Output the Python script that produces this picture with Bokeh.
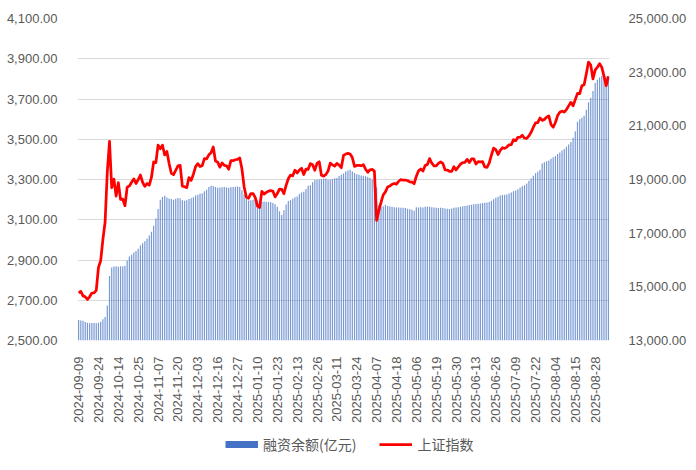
import math
from bokeh.plotting import figure
from bokeh.layouts import column
from bokeh.models import (Range1d, LinearAxis, FixedTicker, NumeralTickFormatter,
                          Legend, LegendItem, ColumnDataSource)
from bokeh.embed import file_html
from bokeh.resources import INLINE

# x-axis tick labels (every 9th trading day)
tick_labels = [
    "2024-09-09", "2024-09-24", "2024-10-14", "2024-10-25", "2024-11-07", "2024-11-20",
    "2024-12-03", "2024-12-16", "2024-12-27", "2025-01-10", "2025-01-23", "2025-02-13",
    "2025-02-26", "2025-03-11", "2025-03-24", "2025-04-07", "2025-04-18", "2025-05-06",
    "2025-05-19", "2025-05-30", "2025-06-13", "2025-06-26", "2025-07-09", "2025-07-22",
    "2025-08-04", "2025-08-15", "2025-08-28",
]

# 上证指数 (left axis)
sse_index = [
    2736.49, 2744.19, 2721.80, 2717.12, 2704.09, 2717.28, 2736.02, 2736.81, 2748.92,
    2863.13, 2896.31, 3000.95, 3087.53, 3336.50, 3489.78, 3258.86, 3301.93, 3217.74,
    3284.32, 3201.29, 3202.95, 3169.38, 3261.56, 3268.11, 3285.87, 3302.80, 3280.26,
    3299.70, 3322.20, 3286.41, 3266.24, 3279.82, 3272.01, 3310.21, 3386.99, 3383.81,
    3470.66, 3452.30, 3470.07, 3421.97, 3439.28, 3379.84, 3330.73, 3323.85, 3346.01,
    3367.99, 3370.40, 3267.19, 3263.76, 3259.76, 3309.78, 3295.70, 3326.46, 3363.98,
    3378.81, 3364.65, 3368.86, 3404.08, 3402.53, 3422.66, 3432.49, 3461.50, 3391.88,
    3386.33, 3361.49, 3382.21, 3370.03, 3368.07, 3351.26, 3393.53, 3393.35, 3398.08,
    3400.14, 3407.33, 3351.76, 3262.56, 3211.43, 3206.92, 3229.64, 3230.17, 3211.39,
    3168.52, 3160.76, 3240.94, 3227.12, 3236.03, 3241.82, 3244.38, 3242.62, 3213.62,
    3230.16, 3252.63, 3250.60, 3229.49, 3270.66, 3303.67, 3322.17, 3318.06, 3346.39,
    3332.48, 3346.72, 3355.83, 3324.49, 3351.54, 3350.78, 3379.11, 3373.03, 3346.04,
    3380.21, 3388.06, 3320.90, 3316.93, 3324.21, 3341.96, 3381.10, 3372.55, 3366.16,
    3379.83, 3371.92, 3358.73, 3419.56, 3426.43, 3429.76, 3426.43, 3408.95, 3364.83,
    3370.03, 3369.98, 3368.70, 3373.75, 3351.31, 3335.75, 3348.44, 3350.13, 3342.01,
    3096.58, 3145.55, 3186.81, 3223.64, 3238.23, 3262.81, 3267.66, 3276.00, 3280.34,
    3276.73, 3291.43, 3299.76, 3296.36, 3297.29, 3295.06, 3288.41, 3286.65, 3279.03,
    3316.11, 3343.00, 3352.00, 3342.00, 3369.24, 3374.87, 3403.95, 3380.82, 3367.46,
    3367.58, 3380.48, 3387.57, 3380.19, 3348.37, 3346.84, 3340.69, 3339.93, 3363.45,
    3347.49, 3361.98, 3376.20, 3384.10, 3385.36, 3399.77, 3384.82, 3402.32, 3402.66,
    3377.00, 3388.73, 3387.40, 3388.81, 3362.11, 3359.90, 3381.58, 3420.57, 3455.97,
    3448.45, 3424.23, 3444.43, 3457.75, 3454.79, 3461.15, 3472.32, 3473.13, 3497.48,
    3493.05, 3509.68, 3510.18, 3519.65, 3505.00, 3503.78, 3516.83, 3534.48, 3559.79,
    3581.86, 3582.30, 3605.73, 3593.66, 3597.94, 3609.71, 3615.72, 3573.21, 3559.95,
    3583.31, 3617.60, 3633.99, 3639.67, 3635.13, 3647.55, 3665.92, 3683.46, 3666.44,
    3696.77, 3728.03, 3727.29, 3766.21, 3771.10, 3825.76, 3883.56, 3868.38, 3800.35,
    3843.60, 3857.93, 3875.53, 3858.13, 3813.56, 3765.88, 3812.51,
]

# 融资余额(亿元) (right axis)
margin_balance = [
    13760, 13750, 13740, 13690, 13660, 13640, 13650, 13650, 13640,
    13660, 13700, 13790, 13880, 14300, 15400, 15720, 15760, 15770,
    15750, 15770, 15760, 15790, 15980, 16130, 16200, 16280, 16340,
    16420, 16540, 16620, 16700, 16790, 16910, 17050, 17280, 17550,
    17900, 18250, 18350, 18390, 18330, 18290, 18270, 18250, 18280,
    18310, 18290, 18230, 18210, 18230, 18270, 18300, 18340, 18400,
    18430, 18470, 18490, 18560, 18620, 18720, 18770, 18760, 18720,
    18690, 18700, 18710, 18720, 18700, 18690, 18710, 18720, 18730,
    18740, 18720, 18600, 18450, 18280, 18220, 18230, 18250, 18240,
    18220, 18150, 18170, 18180, 18170, 18160, 18150, 18120, 18080,
    17980, 17820, 17680, 17850, 18070, 18200, 18230, 18280, 18340,
    18370, 18460, 18520, 18540, 18650, 18770, 18790, 18900, 18980,
    18990, 19000, 19010, 19030, 19040, 18990, 19000, 19010, 19050,
    19060, 19130, 19180, 19220, 19300, 19340, 19360, 19300, 19240,
    19200, 19180, 19150, 19140, 19120, 19090, 19060, 19000, 18980,
    18700, 18050, 17970, 18000, 18060, 18010, 17990, 17980, 17970,
    17960, 17960, 17950, 17950, 17940, 17910, 17890, 17870, 17840,
    17970, 17960, 17970, 17960, 17980, 17990, 17980, 17970, 17960,
    17950, 17940, 17950, 17940, 17920, 17910, 17900, 17920, 17950,
    17960, 17970, 17980, 18000, 18010, 18030, 18050, 18060, 18080,
    18090, 18100, 18110, 18120, 18130, 18140, 18160, 18210, 18260,
    18320, 18360, 18400, 18420, 18430, 18440, 18480, 18520, 18560,
    18590, 18640, 18700, 18750, 18790, 18850, 18950, 19040, 19140,
    19230, 19290, 19350, 19600, 19640, 19680, 19710, 19770, 19830,
    19880, 19950, 20010, 20080, 20140, 20220, 20300, 20400, 20560,
    20800, 21150, 21250, 21300, 21380, 21600, 21880, 22050, 22300,
    22600, 22720, 22800, 22860, 22880, 22830, 22850,
]

left_ticks = [2500, 2700, 2900, 3100, 3300, 3500, 3700, 3900, 4100]
right_ticks = [13000, 15000, 17000, 19000, 21000, 23000, 25000]
tick_step = 9

TXT = "#595959"
FONT = "Liberation Sans"
CJK = "Noto Sans CJK SC"
BAR_COLOR = "#4472C4"
LINE_COLOR = "#FF0000"

n = len(sse_index)
idx = list(range(n))
src = ColumnDataSource(dict(x=idx, sse=sse_index, fin=margin_balance))

# ---- main chart: 688 x 432 ----
p = figure(frame_width=532, frame_height=322,
           min_border_left=77, min_border_right=79, min_border_top=18, min_border_bottom=92,
           x_range=Range1d(-0.5, n - 0.5), y_range=Range1d(left_ticks[0], left_ticks[-1]),
           output_backend="svg", toolbar_location=None)
p.outline_line_color = None
p.extra_y_ranges = {"fin": Range1d(right_ticks[0], right_ticks[-1])}

bars = p.vbar(x="x", top="fin", bottom=right_ticks[0], width=0.55, source=src,
              y_range_name="fin", fill_color=BAR_COLOR, fill_alpha=0.72, line_color=None)
line = p.line(x="x", y="sse", source=src, line_color=LINE_COLOR, line_width=2.75,
              line_join="round")

yl = p.yaxis[0]
yl.ticker = FixedTicker(ticks=left_ticks)
yl.formatter = NumeralTickFormatter(format="0,0.00")
yl.major_label_standoff = 14

yr = LinearAxis(y_range_name="fin", ticker=FixedTicker(ticks=right_ticks),
                formatter=NumeralTickFormatter(format="0,0.00"))
yr.major_label_standoff = 13
p.add_layout(yr, "right")

xa = p.xaxis[0]
xa.ticker = FixedTicker(ticks=[tick_step * k for k in range(len(tick_labels))])
xa.major_label_overrides = {tick_step * k: lab for k, lab in enumerate(tick_labels)}
xa.major_label_orientation = math.pi / 2
xa.major_label_standoff = 10

for ax in (yl, yr, xa):
    ax.axis_line_color = None
    ax.major_tick_line_color = None
    ax.minor_tick_line_color = None
    ax.major_label_text_color = TXT
    ax.major_label_text_font = FONT
    ax.major_label_text_font_size = "13px"

p.xgrid.grid_line_color = None
p.ygrid.ticker = FixedTicker(ticks=left_ticks)
p.ygrid.grid_line_color = "#D9D9D9"
p.ygrid.grid_line_width = 1

# ---- legend strip: 688 x 30, directly under the chart ----
lg = figure(width=688, height=30, min_border_left=0, min_border_right=0,
            min_border_top=0, min_border_bottom=0,
            x_axis_location=None, y_axis_location=None,
            x_range=Range1d(0, 1), y_range=Range1d(0, 1),
            output_backend="svg", toolbar_location=None)
lg.outline_line_color = None
lg.grid.visible = False

# legend-only renderers (a single NaN point, so nothing is drawn in the strip)
stub = ColumnDataSource(dict(x=[float("nan")], y=[float("nan")]))
leg_bar = lg.line(x="x", y="y", source=stub, line_color=BAR_COLOR, line_width=7, line_cap="butt")
leg_line = lg.line(x="x", y="y", source=stub, line_color=LINE_COLOR, line_width=2.75)

legend = Legend(items=[LegendItem(label="融资余额(亿元)", renderers=[leg_bar]),
                       LegendItem(label="上证指数", renderers=[leg_line])],
                location=(148, 8), orientation="horizontal", padding=0, margin=0,
                spacing=23, label_standoff=5, glyph_width=33, glyph_height=20,
                label_height=20, border_line_color=None, background_fill_alpha=0,
                label_text_font=CJK, label_text_font_size="14px", label_text_color=TXT)
lg.add_layout(legend)

layout = column(p, lg, spacing=0)
open("out.html", "w").write(file_html(layout, INLINE))
